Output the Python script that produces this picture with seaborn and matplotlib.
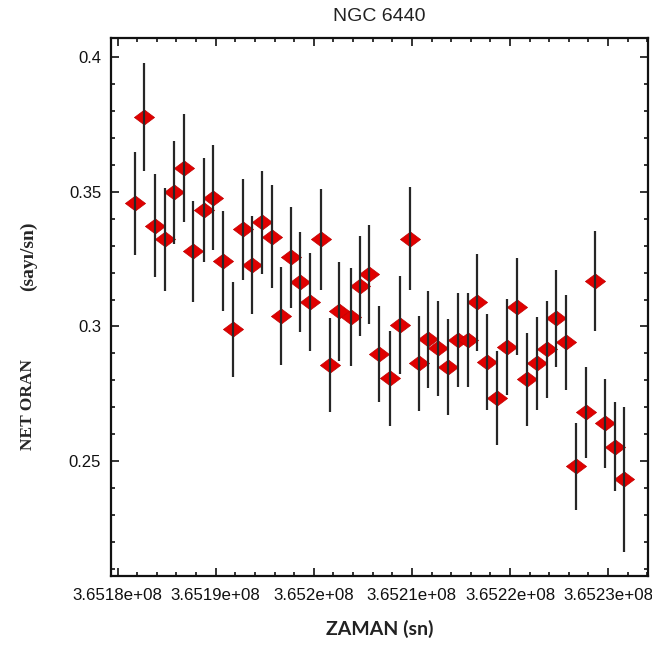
import numpy as np
import pandas as pd
import matplotlib
matplotlib.use("Agg")
import matplotlib.pyplot as plt
import seaborn as sns
from matplotlib.ticker import MultipleLocator, FuncFormatter

# Zaman (sn) - okunan degerler
zaman = [365181774, 365182722, 365183813, 365184832, 365185749, 365186769,
         365187717, 365188808, 365189756, 365190744, 365191794, 365192753,
         365193670, 365194720, 365195709, 365196657, 365197646, 365198594,
         365199664, 365200735, 365201652, 365202600, 365203762, 365204710,
         365205658, 365206647, 365207769, 365208788, 365209807, 365210755,
         365211673, 365212692, 365213681, 365214670, 365215689, 365216668,
         365217687, 365218706, 365219726, 365220684, 365221704, 365222723,
         365223742, 365224690, 365225710, 365226729, 365227749, 365228697,
         365229716, 365230705, 365231653]

# Net oran (sayi/sn)
oran = [0.3458, 0.3778, 0.3375, 0.3324, 0.3499, 0.3589, 0.3280, 0.3433,
        0.3479, 0.3243, 0.2990, 0.3361, 0.3230, 0.3387, 0.3334, 0.3039,
        0.3257, 0.3167, 0.3092, 0.3324, 0.2857, 0.3056, 0.3036, 0.3151,
        0.3194, 0.2898, 0.2807, 0.3006, 0.3326, 0.2863, 0.2952, 0.2919,
        0.2848, 0.2950, 0.2950, 0.3090, 0.2868, 0.2733, 0.2923, 0.3074,
        0.2804, 0.2863, 0.2915, 0.3030, 0.2941, 0.2481, 0.2681, 0.3169,
        0.2640, 0.2553, 0.2432]

# Hata degerleri
hata = [0.0191, 0.0201, 0.0192, 0.0192, 0.0191, 0.0200, 0.0188, 0.0192,
        0.0196, 0.0186, 0.0177, 0.0188, 0.0182, 0.0192, 0.0191, 0.0181,
        0.0189, 0.0186, 0.0182, 0.0188, 0.0174, 0.0184, 0.0182, 0.0185,
        0.0183, 0.0177, 0.0177, 0.0181, 0.0192, 0.0177, 0.0181, 0.0177,
        0.0178, 0.0176, 0.0176, 0.0180, 0.0177, 0.0175, 0.0178, 0.0180,
        0.0173, 0.0172, 0.0180, 0.0180, 0.0177, 0.0162, 0.0169, 0.0185,
        0.0166, 0.0165, 0.0270]

df = pd.DataFrame({"zaman": zaman, "oran": oran, "hata": hata})

sns.set_style("ticks")
plt.rcParams["font.family"] = ["Liberation Sans", "DejaVu Sans"]

fig = plt.figure(figsize=(6.52, 6.57), dpi=100)
ax = fig.add_axes([0.1702, 0.1233, 0.8237, 0.8189])

# elmas isaretci (yatayda biraz genis)
elmas = [(-1, 0), (0, 0.75), (1, 0), (0, -0.75), (-1, 0)]
sns.scatterplot(data=df, x="zaman", y="oran", marker=elmas, s=210,
                color="#e00000", edgecolor="#c00000", linewidth=0.5,
                zorder=2, ax=ax, legend=False)
ax.errorbar(df["zaman"], df["oran"], yerr=df["hata"], fmt="none",
            ecolor="#262626", elinewidth=1.6, capsize=0, zorder=3)

ax.set_xlim(365179327, 365234069)
ax.set_ylim(0.20725, 0.40725)

ax.xaxis.set_major_locator(MultipleLocator(10000))
ax.xaxis.set_minor_locator(MultipleLocator(2000))
ax.yaxis.set_major_locator(MultipleLocator(0.05))
ax.yaxis.set_minor_locator(MultipleLocator(0.01))
ax.xaxis.set_major_formatter(FuncFormatter(lambda v, p: f"{v / 1e8:g}e+08"))
ax.yaxis.set_major_formatter(FuncFormatter(lambda v, p: f"{v:g}"))

ax.tick_params(which="both", direction="in", top=True, right=True,
               colors="#111111", width=1.2)
ax.tick_params(which="major", length=5.5)
ax.tick_params(which="minor", length=3)
ax.tick_params(axis="x", labelsize=12.2, pad=9)
ax.tick_params(axis="y", labelsize=12, pad=7)
for sp in ax.spines.values():
    sp.set_linewidth(1.6)
    sp.set_color("#111111")

ax.set_title("NGC 6440", fontsize=14, pad=12, color="#222222")
ax.set_xlabel("ZAMAN (sn)", fontsize=14, fontweight="bold",
              family=["Lato", "DejaVu Sans"], labelpad=12, color="#222222")
ax.set_ylabel("")

# y ekseni etiketi iki parca
fig.text(28 / 652, 1 - 405 / 657, "NET ORAN", rotation=90, ha="center",
         va="center", fontsize=12.5, fontweight="bold",
         family=["Liberation Serif", "DejaVu Serif"])
fig.text(28 / 652, 1 - 256 / 657, "(sayı/sn)", rotation=90, ha="center",
         va="center", fontsize=14, fontweight="bold",
         family=["Liberation Serif", "DejaVu Serif"])

plt.savefig("out.png", dpi=100)
